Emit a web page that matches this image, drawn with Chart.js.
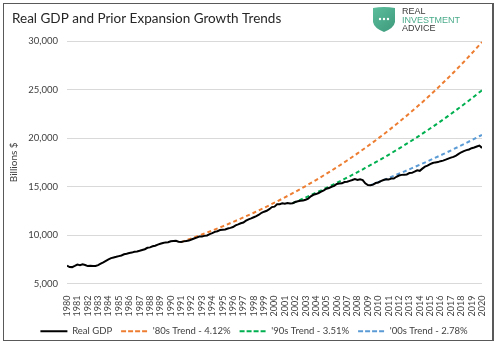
<!DOCTYPE html>
<html>
<head>
<meta charset="utf-8">
<script src="https://cdn.jsdelivr.net/npm/chart.js@4/dist/chart.umd.min.js"></script>
<style>
  html, body { margin: 0; padding: 0; background: #fff; }
  #wrap { width: 500px; height: 346px; position: relative; }
</style>
</head>
<body>
<div id="wrap"><canvas id="gdp-chart"></canvas></div>
<script>
// Real GDP, quarterly, 1980 Q1 .. 2020 Q1 (billions of chained dollars)
const startYear = 1980;
const realGdp = [
  6837.6, 6696.8, 6688.8, 6813.5,   6947.0, 6895.6, 6978.1, 6902.1,
  6794.9, 6825.9, 6799.8, 6802.5,   6892.1, 7048.0, 7189.7, 7339.9,
  7483.4, 7612.7, 7686.1, 7749.2,   7824.2, 7893.1, 8013.7, 8073.2,
  8148.6, 8185.3, 8263.6, 8308.0,   8369.9, 8460.2, 8533.6, 8680.2,
  8725.0, 8839.6, 8891.4, 9009.9,   9101.5, 9171.0, 9238.9, 9257.1,
  9359.0, 9392.3, 9398.5, 9312.9,   9269.4, 9341.6, 9388.8, 9421.6,
  9534.3, 9637.7, 9733.0, 9834.5,   9851.0, 9908.3, 9955.6, 10091.0,
  10189.0, 10327.0, 10387.4, 10506.4, 10543.6, 10575.1, 10665.1, 10737.5,
  10817.9, 10998.3, 11097.0, 11212.2, 11284.6, 11472.1, 11615.6, 11715.4,
  11832.5, 11942.0, 12091.6, 12287.0, 12403.3, 12498.7, 12662.4, 12877.6,
  12924.2, 13160.8, 13178.4, 13260.5, 13222.7, 13300.0, 13244.8, 13280.9,
  13397.0, 13478.2, 13538.1, 13559.0, 13634.3, 13751.5, 13985.1, 14145.6,
  14221.1, 14329.5, 14465.0, 14609.9, 14771.6, 14839.8, 14972.1, 15066.6,
  15267.0, 15302.7, 15326.4, 15456.9, 15493.3, 15582.1, 15666.7, 15762.0,
  15671.4, 15752.3, 15667.0, 15328.0, 15155.9, 15134.1, 15189.2, 15356.1,
  15415.1, 15557.3, 15671.9, 15750.6, 15712.8, 15825.1, 15820.7, 16004.1,
  16129.4, 16198.8, 16220.7, 16239.1, 16383.0, 16403.2, 16531.7, 16663.6,
  16616.5, 16841.5, 17047.1, 17143.0, 17305.8, 17422.8, 17486.0, 17514.1,
  17613.3, 17668.2, 17764.8, 17876.2, 17977.3, 18054.1, 18185.6, 18359.4,
  18530.5, 18654.4, 18752.4, 18813.9, 18950.3, 19021.9, 19121.1, 19222.0,
  18974.7
];

// trend lines
const trend80Years = [1991, 1992, 1993, 1994, 1995, 1996, 1997, 1998, 1999, 2000,
  2001, 2002, 2003, 2004, 2005, 2006, 2007, 2008, 2009, 2010,
  2011, 2012, 2013, 2014, 2015, 2016, 2017, 2018, 2019, 2020];
const trend80 = [9269, 9651, 10049, 10463, 10894, 11342, 11810, 12296, 12803, 13330,
  13880, 14451, 15047, 15667, 16312, 16984, 17684, 18413, 19171, 19961,
  20784, 21640, 22531, 23460, 24426, 25433, 26480, 27571, 28707, 29890];

const trend90Years = [2001.75, 2002.75, 2003.75, 2004.75, 2005.75, 2006.75, 2007.75,
  2008.75, 2009.75, 2010.75, 2011.75, 2012.75, 2013.75, 2014.75, 2015.75,
  2016.75, 2017.75, 2018.75, 2019.75, 2020];
const trend90 = [13281, 13747, 14230, 14729, 15246, 15781, 16335,
  16909, 17502, 18117, 18752, 19411, 20092, 20797, 21527,
  22283, 23065, 23874, 24712, 24926];

const trend00Years = [2009.25, 2010.25, 2011.25, 2012.25, 2013.25, 2014.25,
  2015.25, 2016.25, 2017.25, 2018.25, 2019.25, 2020];
const trend00 = [15134, 15555, 15987, 16432, 16888, 17358,
  17840, 18336, 18846, 19370, 19908, 20322];

const yearTicks = [1980, 1981, 1982, 1983, 1984, 1985, 1986, 1987, 1988, 1989,
  1990, 1991, 1992, 1993, 1994, 1995, 1996, 1997, 1998, 1999,
  2000, 2001, 2002, 2003, 2004, 2005, 2006, 2007, 2008, 2009,
  2010, 2011, 2012, 2013, 2014, 2015, 2016, 2017, 2018, 2019, 2020];
const valueTicks = [5000, 10000, 15000, 20000, 25000, 30000];

const seriesNames = ['Real GDP', "'80s Trend - 4.12%", "'90s Trend - 3.51%", "'00s Trend - 2.78%"];

const FONT = 'Lato, "Open Sans", sans-serif';

function pairs(xs, ys) {
  return ys.map((v, i) => ({ x: xs[i], y: v }));
}

// frame, title and logo
const decorations = {
  id: 'decorations',
  afterLayout(chart) {
    // the legend in the original sits a little right of centre
    chart.legend.left += 9;
    chart.legend.right += 9;
  },
  beforeDraw(chart) {
    const c = chart.ctx;
    c.save();
    c.fillStyle = '#fff';
    c.fillRect(0, 0, chart.width, chart.height);
    c.restore();
  },
  afterDraw(chart) {
    const c = chart.ctx;
    c.save();
    // border
    c.strokeStyle = '#595959';
    c.lineWidth = 1;
    c.strokeRect(3.5, 3.5, 489, 337);
    c.lineWidth = 2;
    c.beginPath();
    c.moveTo(493, 3);
    c.lineTo(493, 341);
    c.stroke();

    // title
    c.fillStyle = '#262626';
    c.font = '13.5px ' + FONT;
    c.textBaseline = 'alphabetic';
    c.fillText('Real GDP and Prior Expansion Growth Trends', 12, 22.5);

    // logo shield
    const grd = c.createLinearGradient(373, 7, 395, 32);
    grd.addColorStop(0, '#5bbd9c');
    grd.addColorStop(1, '#3e9a7c');
    c.fillStyle = grd;
    c.beginPath();
    c.moveTo(373, 8);
    c.quadraticCurveTo(384, 6, 395, 8);
    c.lineTo(395, 22);
    c.quadraticCurveTo(394, 28, 384, 32);
    c.quadraticCurveTo(374, 28, 373, 22);
    c.closePath();
    c.fill();
    c.fillStyle = '#fff';
    [380, 384, 388].forEach(x => {
      c.beginPath();
      c.arc(x, 19, 1.2, 0, Math.PI * 2);
      c.fill();
    });

    c.font = '9px "Liberation Sans", Arial, sans-serif';
    c.fillStyle = '#3a3a3a';
    c.fillText('REAL', 402, 14);
    c.fillStyle = '#4aab8b';
    c.fillText('INVESTMENT', 402, 23.3);
    c.fillStyle = '#3a3a3a';
    c.fillText('ADVICE', 402, 31);
    c.restore();
  }
};

const ctx = document.getElementById('gdp-chart').getContext('2d');

new Chart(ctx, {
  type: 'line',
  data: {
    datasets: [
      {
        label: seriesNames[0],
        data: realGdp.map((v, i) => ({ x: startYear + i / 4, y: v })),
        borderColor: '#000000',
        backgroundColor: '#000000',
        borderWidth: 2,
        pointRadius: 0,
        tension: 0
      },
      {
        label: seriesNames[1],
        data: pairs(trend80Years, trend80),
        borderColor: '#ED7D31',
        backgroundColor: '#ED7D31',
        borderWidth: 2,
        borderDash: [4, 3],
        pointRadius: 0,
        cubicInterpolationMode: 'monotone'
      },
      {
        label: seriesNames[2],
        data: pairs(trend90Years, trend90),
        borderColor: '#00B050',
        backgroundColor: '#00B050',
        borderWidth: 2,
        borderDash: [4, 3],
        pointRadius: 0,
        cubicInterpolationMode: 'monotone'
      },
      {
        label: seriesNames[3],
        data: pairs(trend00Years, trend00),
        borderColor: '#5B9BD5',
        backgroundColor: '#5B9BD5',
        borderWidth: 2,
        borderDash: [4, 3],
        pointRadius: 0,
        cubicInterpolationMode: 'monotone'
      }
    ]
  },
  options: {
    responsive: true,
    maintainAspectRatio: false,
    animation: false,
    layout: { padding: { left: 8, right: 18, top: 41, bottom: 0 } },
    scales: {
      x: {
        type: 'linear',
        min: 1980,
        max: 2020,
        afterBuildTicks: s => { s.ticks = yearTicks.map(v => ({ value: v })); },
        afterFit: s => { s.height = 34; },
        grid: { display: false },
        border: { display: false },
        ticks: {
          autoSkip: false,
          minRotation: 90,
          maxRotation: 90,
          padding: 4,
          color: '#404040',
          font: { family: FONT, size: 9 },
          callback: v => String(v)
        }
      },
      y: {
        min: 5000,
        max: 30000,
        afterBuildTicks: s => { s.ticks = valueTicks.map(v => ({ value: v })); },
        afterFit: s => { s.width = 59; },
        grid: { color: '#d9d9d9', lineWidth: 1, drawTicks: false },
        border: { display: false },
        title: {
          display: true,
          text: 'Billions $',
          color: '#404040',
          font: { family: FONT, size: 10 },
          padding: { top: 0, bottom: 0 }
        },
        ticks: {
          padding: 9,
          color: '#404040',
          font: { family: FONT, size: 9.5 },
          callback: v => v.toLocaleString('en-US')
        }
      }
    },
    plugins: {
      legend: {
        position: 'bottom',
        labels: {
          boxWidth: 27,
          boxHeight: 0,
          padding: 9,
          color: '#404040',
          font: { family: FONT, size: 9.5 }
        }
      },
      tooltip: { enabled: false }
    }
  },
  plugins: [decorations]
});
</script>
</body>
</html>
